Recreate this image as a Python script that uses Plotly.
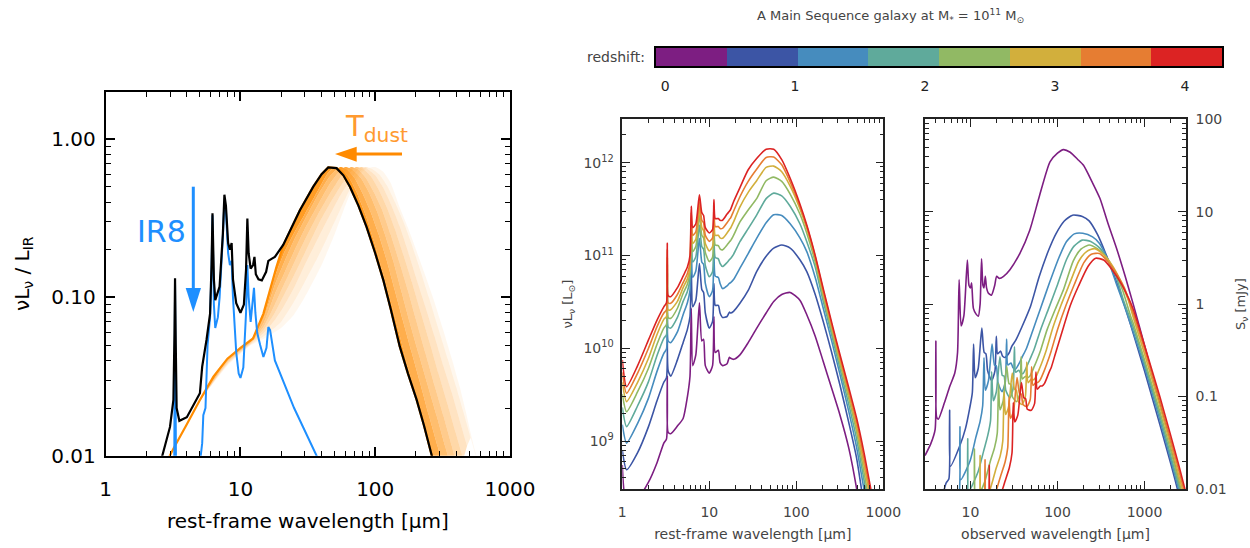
import numpy as np
import plotly.graph_objects as go

W, H = 1250, 548
def px(x): return x / W
def py(y): return 1 - y / H

# ---------------- LEFT PANEL DATA (nuL_nu / L_IR) ----------------
BLK_X = [2.4, 2.63, 3.0, 3.18, 3.24, 3.27, 3.31, 3.36, 3.52, 4.0, 5.0, 5.2, 5.6, 5.95, 6.1, 6.2, 6.35, 6.5, 7.0, 7.4,
         7.6, 7.8, 8.1, 8.35, 8.6, 8.8, 9.3, 10.0, 10.6, 11.0, 11.25, 11.5, 11.9, 12.4, 12.7, 13.0, 13.6, 14.4, 15.5,
         16.1, 17.0, 18.0, 20.8, 24, 27.6, 34.7, 40, 44.8, 51.6, 58, 64.9, 75, 86.2, 100, 115, 130, 152, 175, 203,
         230, 262, 300]
BLK_Y = [0.0065, 0.01, 0.0152, 0.0225, 0.06, 0.132, 0.05, 0.02, 0.0166, 0.0175, 0.0248, 0.0365, 0.054, 0.079, 0.16,
         0.34, 0.13, 0.096, 0.117, 0.25, 0.445, 0.38, 0.22, 0.2, 0.22, 0.13, 0.092, 0.08, 0.09, 0.15, 0.315, 0.19,
         0.152, 0.16, 0.18, 0.14, 0.13, 0.128, 0.145, 0.17, 0.175, 0.18, 0.215, 0.28, 0.355, 0.5, 0.6, 0.662, 0.655,
         0.59, 0.5, 0.38, 0.279, 0.19, 0.128, 0.085, 0.049, 0.033, 0.0225, 0.0155, 0.01, 0.0065]

BLU_X = [3.1, 3.22, 3.27, 3.33, 3.6, 4.8, 5.0, 5.2, 5.3, 5.5, 5.7, 5.95, 6.1, 6.2, 6.35, 6.5, 6.8, 7.0, 7.4, 7.6,
         7.8, 8.1, 8.35, 8.6, 8.8, 9.3, 9.7, 10.0, 10.5, 11.0, 11.25, 11.5, 11.9, 12.3, 12.6, 12.9, 13.3, 14.0, 14.8,
         15.6, 16.1, 16.6, 17.2, 18.0, 25, 36.7, 45]
BLU_Y = [0.003, 0.006, 0.12, 0.006, 0.002, 0.004, 0.009, 0.012, 0.018, 0.02, 0.05, 0.075, 0.15, 0.33, 0.09, 0.064,
         0.075, 0.1, 0.24, 0.40, 0.35, 0.19, 0.16, 0.17, 0.1, 0.045, 0.033, 0.031, 0.036, 0.08, 0.16, 0.1, 0.07, 0.09,
         0.115, 0.08, 0.06, 0.05, 0.042, 0.048, 0.065, 0.062, 0.05, 0.04, 0.02, 0.01, 0.006]

# dust-temperature family, hottest (T0) to coldest (T8)
T0_X = [2.9, 3.2, 4.0, 5.0, 6.3, 8.0, 10.0, 12.4, 14.8, 16.5, 18.5, 20.8, 24, 27.6, 34.7, 40, 44.8, 51.6, 58, 64.9,
        75, 86.2, 100, 115, 130, 152, 175, 203, 230, 262, 300]
T0_Y = [0.0095, 0.0112, 0.0158, 0.0225, 0.0316, 0.041, 0.048, 0.055, 0.079, 0.111, 0.156, 0.214, 0.28, 0.355, 0.5,
        0.6, 0.662, 0.655, 0.59, 0.5, 0.38, 0.279, 0.19, 0.128, 0.085, 0.049, 0.033, 0.0225, 0.0155, 0.01, 0.0065]
T1_X = [3.2, 5, 8, 12, 15, 18, 21, 25, 30, 38, 44, 50, 57, 64, 73, 85, 98, 112, 130, 150, 172, 200, 232, 270, 310]
T1_Y = [0.0112, 0.0222, 0.0405, 0.054, 0.077, 0.135, 0.19, 0.255, 0.335, 0.48, 0.6, 0.665, 0.64, 0.57, 0.46, 0.33,
        0.225, 0.15, 0.095, 0.06, 0.038, 0.024, 0.015, 0.0095, 0.0063]
T2_X = [3.2, 5, 8, 12, 15, 18, 21, 25, 30, 38, 46, 55, 62, 70, 80, 92, 106, 122, 140, 160, 185, 215, 250, 290, 330]
T2_Y = [0.0112, 0.022, 0.04, 0.053, 0.075, 0.12, 0.165, 0.23, 0.31, 0.45, 0.58, 0.665, 0.64, 0.57, 0.46, 0.35, 0.25,
        0.17, 0.11, 0.072, 0.046, 0.029, 0.018, 0.0115, 0.0075]
T3_X = [3.2, 5, 8, 12, 15, 18, 21, 25, 30, 38, 46, 53, 60, 68, 78, 90, 103, 118, 136, 156, 180, 210, 245, 285, 330,
        380]
T3_Y = [0.0112, 0.022, 0.0395, 0.0525, 0.07, 0.105, 0.14, 0.195, 0.27, 0.39, 0.52, 0.61, 0.665, 0.64, 0.57, 0.46,
        0.35, 0.25, 0.17, 0.11, 0.07, 0.044, 0.028, 0.018, 0.0115, 0.0075]
T4_X = [3.2, 5, 8, 12, 15, 18, 21, 25, 30, 38, 46, 55, 66, 75, 85, 98, 112, 130, 150, 175, 200, 235, 275, 320, 370, 420]
T4_Y = [0.0112, 0.022, 0.039, 0.052, 0.066, 0.09, 0.12, 0.165, 0.23, 0.34, 0.45, 0.57, 0.665, 0.64, 0.57, 0.46, 0.36,
        0.25, 0.17, 0.11, 0.073, 0.045, 0.028, 0.018, 0.0115, 0.0075]
T5_X = [3.2, 5, 8, 12, 15, 18, 21, 25, 30, 38, 46, 55, 64, 72, 82, 93, 106, 122, 140, 162, 187, 218, 255, 295, 345,
        395, 450]
T5_Y = [0.0112, 0.022, 0.0385, 0.0515, 0.063, 0.08, 0.103, 0.138, 0.19, 0.29, 0.39, 0.5, 0.6, 0.665, 0.645, 0.58,
        0.48, 0.37, 0.27, 0.185, 0.125, 0.08, 0.051, 0.033, 0.021, 0.014, 0.0095]
T6_X = [3.2, 5, 8, 12, 15, 18, 21, 25, 30, 38, 46, 55, 66, 78, 88, 100, 115, 132, 152, 175, 200, 235, 275, 320, 370,
        430, 480]
T6_Y = [0.0112, 0.022, 0.038, 0.051, 0.06, 0.072, 0.088, 0.115, 0.16, 0.24, 0.33, 0.44, 0.56, 0.665, 0.645, 0.59,
        0.49, 0.38, 0.28, 0.195, 0.135, 0.088, 0.057, 0.037, 0.025, 0.016, 0.0115]
T7_X = [3.2, 5, 8, 12, 15, 20, 25, 30, 40, 50, 60, 70, 77, 84, 94, 107, 122, 140, 162, 187, 215, 250, 295, 345, 400,
        450, 510]
T7_Y = [0.0112, 0.022, 0.0375, 0.0505, 0.057, 0.07, 0.094, 0.125, 0.2, 0.3, 0.42, 0.55, 0.62, 0.665, 0.65, 0.6, 0.51,
        0.4, 0.3, 0.215, 0.15, 0.1, 0.063, 0.041, 0.027, 0.019, 0.013]
T8_X = [3.2, 5, 8, 12, 15, 20, 25, 30, 40, 50, 60, 70, 80, 90, 100, 115, 130, 152, 175, 203, 230, 270, 320, 370, 425,
        470, 520, 600]
T8_Y = [0.0112, 0.022, 0.037, 0.05, 0.055, 0.064, 0.078, 0.1, 0.16, 0.25, 0.38, 0.52, 0.62, 0.66, 0.665, 0.62, 0.53,
        0.37, 0.275, 0.195, 0.145, 0.098, 0.062, 0.041, 0.027, 0.019, 0.013, 0.008]

# ---------------- MIDDLE PANEL DATA (rest frame, nuL_nu in Lsun) ----------------
MID_LAM = [1.0, 1.12, 1.5, 2.0, 2.5, 3.0, 3.22, 3.29, 3.36, 3.6, 4.3, 5.0, 5.6, 6.0, 6.2, 6.45, 7.0, 7.7, 8.2, 8.6,
           9.0, 10.0, 10.9, 11.3, 11.7, 12.7, 13.3, 14.2, 16.0, 17.0, 17.6, 19.0, 22.5, 28, 35, 45, 55, 68, 85, 110,
           132, 165, 204, 255, 318, 400, 494, 600, 720]
MID_PURPLE = [5.5e8, 2.2e8, 2.4e8, 3.6e8, 5.8e8, 9.5e8, 1.05e9, 5.0e9, 1.25e9, 1.2e9, 1.45e9, 1.75e9, 3.0e9, 5.0e9,
              2.7e10, 6.5e9, 8.5e9, 3.1e10, 1.2e10, 1.25e10, 6.5e9, 5.4e9, 6.5e9, 2.2e10, 9.0e9, 9.5e9, 7.0e9, 6.5e9,
              6.8e9, 8.0e9, 7.8e9, 7.6e9, 8.5e9, 1.15e10, 1.64e10, 2.4e10, 3.2e10, 3.8e10, 4.0e10, 3.3e10, 2.3e10,
              1.35e10, 7.2e9, 3.7e9, 1.9e9, 8.5e8, 3.05e8, 9e7, 3e7]
MID_DBLUE = [8.0e8, 4.9e8, 7.5e8, 1.43e9, 2.7e9, 4.3e9, 4.8e9, 2.4e10, 5.8e9, 5.0e9, 7.5e9, 1.15e10, 1.6e10, 2.2e10,
             7.0e10, 2.8e10, 3.3e10, 8.2e10, 4.3e10, 4.0e10, 2.4e10, 1.65e10, 1.95e10, 5.0e10, 2.9e10, 2.9e10, 2.4e10,
             2.15e10, 2.2e10, 2.45e10, 2.4e10, 2.5e10, 3.05e10, 4.2e10, 6.7e10, 9.8e10, 1.2e11, 1.3e11, 1.2e11,
             9.0e10, 6.7e10, 3.8e10, 1.94e10, 9.0e9, 4.0e9, 1.6e9, 6.5e8, 2.0e8, 7e7]
MID_LBLUE = [1.5e9, 9.5e8, 1.55e9, 2.9e9, 5.6e9, 8.8e9, 9.8e9, 4.6e10, 1.2e10, 1.15e10, 1.5e10, 2.3e10, 3.1e10, 4.2e10,
             1.35e11, 5.8e10, 6.8e10, 1.53e11, 8.5e10, 8.0e10, 5.0e10, 3.6e10, 4.2e10, 1.2e11, 6.0e10, 5.8e10, 5.0e10,
             4.4e10, 4.7e10, 5.0e10, 5.1e10, 5.5e10, 7.3e10, 1.05e11, 1.53e11, 2.25e11, 2.75e11, 2.7e11, 2.2e11,
             1.55e11, 1.1e11, 5.8e10, 2.7e10, 1.2e10, 5.2e9, 2.1e9, 8.5e8, 3.0e8, 1.1e8]
MID_TEAL = [2.3e9, 1.43e9, 2.4e9, 4.37e9, 8.3e9, 1.28e10, 1.4e10, 6.4e10, 1.7e10, 1.65e10, 2.15e10, 3.2e10, 4.1e10,
            5.6e10, 1.8e11, 8.5e10, 9.7e10, 2.13e11, 1.25e11, 1.17e11, 7.8e10, 5.9e10, 6.7e10, 1.85e11, 9.5e10, 9.2e10,
            8.2e10, 7.6e10, 8.4e10, 9.0e10, 9.3e10, 1.03e11, 1.41e11, 1.95e11, 2.73e11, 4.1e11, 4.7e11, 4.4e11,
            3.4e11, 2.2e11, 1.41e11, 7.5e10, 3.2e10, 1.4e10, 6.0e9, 2.5e9, 1.05e9, 3.8e8, 1.5e8]
MID_GREEN = [3.2e9, 2.07e9, 3.4e9, 6.1e9, 1.1e10, 1.65e10, 1.8e10, 8.0e10, 2.15e10, 2.1e10, 2.7e10, 3.9e10, 4.9e10,
             6.6e10, 2.2e11, 1.1e11, 1.25e11, 2.73e11, 1.65e11, 1.55e11, 1.08e11, 8.6e10, 9.6e10, 2.35e11, 1.3e11,
             1.28e11, 1.18e11, 1.15e11, 1.3e11, 1.4e11, 1.45e11, 1.65e11, 2.3e11, 3.1e11, 4.1e11, 6.4e11, 7.0e11,
             6.3e11, 4.6e11, 2.8e11, 1.74e11, 8.5e10, 3.6e10, 1.55e10, 6.8e9, 2.9e9, 1.25e9, 4.6e8, 1.8e8]
MID_YELLOW = [4.3e9, 2.66e9, 4.3e9, 7.8e9, 1.4e10, 2.05e10, 2.2e10, 9.5e10, 2.6e10, 2.6e10, 3.2e10, 4.5e10, 5.6e10,
              7.5e10, 2.5e11, 1.35e11, 1.5e11, 3.2e11, 2.0e11, 1.85e11, 1.35e11, 1.12e11, 1.25e11, 2.85e11, 1.65e11,
              1.65e11, 1.55e11, 1.53e11, 1.75e11, 1.9e11, 1.98e11, 2.3e11, 3.35e11, 4.8e11, 6.4e11, 8.9e11, 9.2e11,
              8.0e11, 5.6e11, 3.2e11, 1.95e11, 9.3e10, 3.9e10, 1.7e10, 7.4e9, 3.2e9, 1.4e9, 5.5e8, 2.2e8]
MID_ORANGE = [5.5e9, 3.27e9, 5.4e9, 1.0e10, 1.7e10, 2.4e10, 2.6e10, 1.15e11, 3.1e10, 3.05e10, 3.8e10, 5.1e10, 6.4e10,
              8.5e10, 2.9e11, 1.65e11, 1.8e11, 3.8e11, 2.4e11, 2.25e11, 1.65e11, 1.42e11, 1.55e11, 3.4e11, 2.05e11,
              2.05e11, 1.95e11, 1.96e11, 2.25e11, 2.45e11, 2.55e11, 3.0e11, 4.3e11, 6.3e11, 8.5e11, 1.14e12, 1.15e12,
              9.5e11, 6.2e11, 3.4e11, 2.05e11, 9.7e10, 4.2e10, 1.8e10, 8.0e9, 3.5e9, 1.6e9, 6.5e8, 2.6e8]
MID_RED = [7.5e9, 3.85e9, 6.5e9, 1.23e10, 2.0e10, 2.8e10, 3.1e10, 1.35e11, 3.7e10, 3.6e10, 4.5e10, 6.0e10, 7.5e10,
           1.0e11, 3.4e11, 2.0e11, 2.2e11, 4.5e11, 2.9e11, 2.7e11, 2.0e11, 1.75e11, 1.9e11, 4.0e11, 2.5e11, 2.5e11,
           2.4e11, 2.4e11, 2.8e11, 3.0e11, 3.15e11, 3.8e11, 5.4e11, 8.4e11, 1.11e12, 1.40e12, 1.40e12, 1.08e12,
           6.8e11, 3.6e11, 2.13e11, 1.0e11, 4.4e10, 1.9e10, 8.5e9, 3.8e9, 1.76e9, 7.5e8, 3.0e8]

# ---------------- RIGHT PANEL DATA (observed frame, S_nu in mJy) ----------------
OBS_PURPLE_X = [3.0, 3.5, 3.92, 4.0, 4.08, 4.27, 5.0, 5.8, 6.6, 7.1, 7.4, 7.8, 8.4, 9.2, 9.6, 10.0, 10.3, 10.8, 11.6,
                12.3, 12.9, 13.4, 13.9, 14.3, 14.8, 15.3, 16.0, 17.4, 19.0, 20.0, 21.5, 24, 28.4, 37, 48, 62, 82, 100,
                117, 140, 170, 199, 250, 308, 380, 478, 600, 742, 1000, 1500, 2000, 2500, 3000]
OBS_PURPLE_Y = [0.023, 0.031, 0.044, 0.40, 0.06, 0.057, 0.085, 0.13, 0.18, 0.3, 1.84, 0.58, 0.75, 3.0, 1.6, 1.5, 1.7,
                0.9, 0.78, 0.74, 1.0, 3.1, 1.6, 1.5, 2.0, 1.5, 1.32, 1.25, 1.6, 2.0, 1.9, 2.0, 2.36, 3.55, 6.3, 14.8,
                34.6, 43, 47, 44, 37, 31.8, 21, 13.9, 7.5, 4.0, 2.0, 1.0, 0.36, 0.085, 0.03, 0.0115, 0.0055]
OBS_DBLUE_X = [4.4, 5.25, 5.64, 5.76, 5.88, 7.5, 8.75, 9.8, 10.5, 10.85, 11.3, 12.25, 13.5, 14.35, 15.05, 15.75, 17.5,
               19.1, 19.8, 20.5, 22.2, 23.3, 24.9, 28.0, 29.8, 33.3, 39.4, 49, 61.3, 78.8, 96.3, 119, 149, 193, 231,
               289, 357, 446, 557, 700, 1000, 1500, 2000, 2500, 3000]
OBS_DBLUE_Y = [0.0061, 0.0116, 0.0128, 0.071, 0.0176, 0.029, 0.045, 0.075, 0.11, 0.37, 0.16, 0.2, 0.55, 0.3,
               0.29, 0.19, 0.149, 0.19, 0.45, 0.29, 0.31, 0.275, 0.265, 0.3, 0.35, 0.41, 0.58, 0.95, 1.95, 3.8,
               5.8, 7.9, 9.18, 8.9, 7.96, 5.64, 3.56, 2.07, 1.14, 0.58, 0.19, 0.05, 0.019, 0.0085, 0.0044]
OBS_LBLUE_X = [6.9, 7.4, 7.57, 7.73, 9.9, 11.5, 12.9, 13.8, 14.3, 14.8, 16.1, 17.7, 18.9, 19.8, 20.7, 23.0, 25.1, 26.0,
               26.9, 29.2, 30.6, 32.7, 36.8, 39.1, 43.7, 51.8, 64.4, 80.5, 103.5, 126.5, 156, 195.5, 253, 304, 380, 469,
               587, 742, 1000, 1500, 2000, 2500, 3000]
OBS_LBLUE_Y = [0.0083, 0.0091, 0.047, 0.0126, 0.0202, 0.036, 0.054, 0.079, 0.262, 0.117, 0.149, 0.369, 0.218, 0.215,
               0.141, 0.113, 0.143, 0.42, 0.22, 0.231, 0.208, 0.196, 0.235, 0.266, 0.327, 0.513, 0.92, 1.68, 3.16, 4.73,
               5.76, 5.85, 5.34, 4.54, 3.0, 1.72, 0.96, 0.5, 0.21, 0.056, 0.021, 0.0095, 0.0049]
OBS_TEAL_X = [8.5, 9.1, 9.3, 9.5, 12.2, 14.2, 15.8, 17.0, 17.5, 18.3, 19.8, 21.8, 23.2, 24.3, 25.5, 28.3, 30.8, 32.0,
              33.1, 35.9, 37.6, 40.2, 45.3, 48.1, 53.8, 63.7, 79.2, 99, 127, 156, 192, 241, 311, 374, 467, 577, 742,
              1000, 1500, 2000, 2500, 3000]
OBS_TEAL_Y = [0.0063, 0.0069, 0.035, 0.0094, 0.0153, 0.026, 0.038, 0.055, 0.185, 0.09, 0.112, 0.27, 0.169, 0.167,
              0.116, 0.097, 0.12, 0.345, 0.183, 0.193, 0.18, 0.178, 0.221, 0.252, 0.323, 0.523, 0.9, 1.58, 3.04, 4.27,
              4.93, 4.77, 3.99, 3.07, 2.05, 1.08, 0.56, 0.23, 0.062, 0.023, 0.0105, 0.0054]
OBS_GREEN_X = [10.1, 10.9, 11.1, 11.4, 14.5, 16.9, 18.9, 20.3, 21.0, 21.8, 23.7, 26.0, 27.7, 29.1, 30.4, 33.8, 36.8,
               38.2, 39.5, 42.9, 45.0, 48.0, 54.1, 57.5, 64.2, 76, 94.6, 118, 152, 186, 230, 287, 372, 446, 558, 690,
               742, 1000, 1500, 2000, 2500, 3000]
OBS_GREEN_Y = [0.005, 0.0055, 0.027, 0.0074, 0.0118, 0.02, 0.028, 0.04, 0.139, 0.072, 0.089, 0.214, 0.138, 0.136,
               0.099, 0.088, 0.107, 0.271, 0.155, 0.166, 0.16, 0.166, 0.212, 0.243, 0.32, 0.53, 0.885, 1.46, 2.94, 3.93,
               4.37, 3.99, 3.14, 2.35, 1.43, 0.75, 0.62, 0.25, 0.069, 0.026, 0.0118, 0.0061]
OBS_YELLOW_X = [11.8, 12.6, 12.9, 13.2, 16.9, 19.6, 22.0, 23.5, 24.3, 25.3, 27.4, 30.2, 32.1, 33.7, 35.3, 39.2, 42.7,
                44.3, 45.9, 49.8, 52.1, 55.7, 62.7, 66.6, 74.5, 88.2, 110, 137, 176, 216, 267, 333, 431, 517, 647, 742,
                1000, 1500, 2000, 2500, 3000]
OBS_YELLOW_Y = [0.0045, 0.0049, 0.023, 0.0064, 0.0101, 0.0165, 0.023, 0.033, 0.114, 0.064, 0.077, 0.18, 0.12, 0.117,
                0.089, 0.082, 0.1, 0.236, 0.141, 0.154, 0.151, 0.159, 0.205, 0.237, 0.32, 0.553, 0.98, 1.64, 2.93, 3.71,
                3.99, 3.49, 2.58, 1.88, 1.12, 0.72, 0.29, 0.079, 0.03, 0.0135, 0.007]
OBS_ORANGE_X = [13.4, 14.4, 14.7, 15.0, 19.2, 22.3, 25.0, 26.8, 27.7, 28.8, 31.2, 34.3, 36.6, 38.4, 40.1, 44.6, 48.6,
                50.4, 52.2, 56.6, 59.3, 63.3, 71.4, 75.8, 84.7, 100, 125, 156, 201, 245, 303, 379, 491, 589, 742, 1000,
                1500, 2000, 2500, 3000]
OBS_ORANGE_Y = [0.0039, 0.0043, 0.0207, 0.0057, 0.0089, 0.014, 0.0196, 0.028, 0.099, 0.058, 0.069, 0.161, 0.108, 0.106,
                0.082, 0.078, 0.093, 0.21, 0.132, 0.142, 0.142, 0.152, 0.197, 0.229, 0.312, 0.53, 0.965, 1.63, 2.81,
                3.47, 3.54, 2.89, 2.05, 1.49, 0.8, 0.33, 0.09, 0.034, 0.0155, 0.008]
OBS_RED_X = [15.0, 16.1, 16.45, 16.8, 21.5, 25, 28, 30, 31, 32.3, 35, 38.5, 41, 43, 45, 50, 54.5, 56.5, 58.5, 63.5,
             66.5, 71, 80, 85, 95, 112.5, 140, 175, 225, 275, 340, 425, 550, 660, 742, 1000, 1500, 2000, 2500, 3000]
OBS_RED_Y = [0.0034, 0.0037, 0.018, 0.0051, 0.0079, 0.0122, 0.0171, 0.0245, 0.086, 0.053, 0.063, 0.142, 0.097, 0.095,
             0.073, 0.071, 0.084, 0.184, 0.12, 0.13, 0.13, 0.139, 0.183, 0.208, 0.295, 0.496, 0.96, 1.58, 2.57, 3.14,
             3.0, 2.36, 1.62, 1.15, 0.88, 0.36, 0.1, 0.038, 0.0175, 0.009]

# ---------------- COLOURS / LABELS ----------------
Z_COLORS = ['#7D1E82', '#3C55A5', '#468CBE', '#5FAA9B', '#91B964', '#D2AF3C', '#E67D32', '#DC2323']
Z_TICKS = [0, 1, 2, 3, 4]
Z_RANGE = [-0.07, 4.285]

MID_SERIES = [MID_PURPLE, MID_DBLUE, MID_LBLUE, MID_TEAL, MID_GREEN, MID_YELLOW, MID_ORANGE, MID_RED]
OBS_SERIES = [(OBS_PURPLE_X, OBS_PURPLE_Y), (OBS_DBLUE_X, OBS_DBLUE_Y), (OBS_LBLUE_X, OBS_LBLUE_Y),
              (OBS_TEAL_X, OBS_TEAL_Y), (OBS_GREEN_X, OBS_GREEN_Y), (OBS_YELLOW_X, OBS_YELLOW_Y),
              (OBS_ORANGE_X, OBS_ORANGE_Y), (OBS_RED_X, OBS_RED_Y)]
BAND = [(T8_X, T8_Y), (T7_X, T7_Y), (T6_X, T6_Y), (T5_X, T5_Y), (T4_X, T4_Y), (T3_X, T3_Y), (T2_X, T2_Y),
        (T1_X, T1_Y), (T0_X, T0_Y)]
BAND_ALPHA = [None, 0.07, 0.15, 0.24, 0.34, 0.45, 0.57, 0.7, 0.86]

ORANGE = 'rgb(255,140,0)'
BLUE = '#1E8FFF'
GREY = '#444444'
FONT = 'DejaVu Sans'

fig = go.Figure()

# ---- left panel: temperature band ----
for (xs, ys), a in zip(BAND, BAND_ALPHA):
    fig.add_trace(go.Scatter(
        x=xs, y=ys, mode='lines', line=dict(width=0, color='rgba(255,140,0,0)', shape='spline', smoothing=0.5),
        fill='tonexty' if a else None,
        fillcolor=f'rgba(255,140,0,{a})' if a else None,
        xaxis='x', yaxis='y', hoverinfo='skip', showlegend=False))
fig.add_trace(go.Scatter(x=T0_X, y=T0_Y, mode='lines', line=dict(width=2.2, color=ORANGE),
                         xaxis='x', yaxis='y', showlegend=False))
fig.add_trace(go.Scatter(x=BLU_X, y=BLU_Y, mode='lines', line=dict(width=2, color=BLUE),
                         xaxis='x', yaxis='y', showlegend=False))
fig.add_trace(go.Scatter(x=BLK_X, y=BLK_Y, mode='lines', line=dict(width=2.2, color='black'),
                         xaxis='x', yaxis='y', showlegend=False))

# ---- middle panel ----
for vals, col in zip(MID_SERIES, Z_COLORS):
    fig.add_trace(go.Scatter(x=MID_LAM, y=vals, mode='lines',
                             line=dict(width=1.6, color=col, shape='spline', smoothing=0.6),
                             xaxis='x2', yaxis='y2', showlegend=False))

# ---- right panel ----
for (xs, ys), col in zip(OBS_SERIES, Z_COLORS):
    fig.add_trace(go.Scatter(x=xs, y=ys, mode='lines',
                             line=dict(width=1.6, color=col, shape='spline', smoothing=0.6),
                             xaxis='x3', yaxis='y3', showlegend=False))

# ---- colour bar ----
n = len(Z_COLORS)
cscale = []
for k, c in enumerate(Z_COLORS):
    cscale.append([k / n, c])
    cscale.append([(k + 1) / n, c])
fig.add_trace(go.Heatmap(z=[list(range(n))], x=list(np.linspace(Z_RANGE[0], Z_RANGE[1], n + 1)), y=[0, 1],
                         zmin=-0.5, zmax=n - 0.5, colorscale=cscale, showscale=False,
                         xaxis='x4', yaxis='y4', hoverinfo='skip'))


def minor_vals(lo, hi):
    out = []
    for e in range(lo, hi):
        for m in range(2, 10):
            out.append(m * 10.0 ** e)
    return out


left_font = dict(family=FONT, size=20, color='black')
small_font = dict(family=FONT, size=14, color=GREY)

common_left = dict(type='log', showgrid=False, zeroline=False, showline=True, linewidth=2, linecolor='black',
                   mirror='allticks', ticks='inside', ticklen=9, tickwidth=1.5, tickcolor='black',
                   tickfont=left_font, automargin=False)
common_small = dict(type='log', showgrid=False, zeroline=False, showline=True, linewidth=1.5, linecolor='#222',
                    mirror='allticks', ticks='inside', ticklen=8, tickwidth=1.2, tickcolor='#222',
                    tickfont=small_font, automargin=False)

fig.update_layout(
    width=W, height=H, margin=dict(l=0, r=0, t=0, b=0, pad=0, autoexpand=False),
    paper_bgcolor='white', plot_bgcolor='white', showlegend=False,
    xaxis=dict(common_left, domain=[px(105.7), px(510)], anchor='y', range=[0, 3],
               tickvals=[1, 10, 100, 1000], ticktext=['1', '10', '100', '1000'], ticklabelstandoff=14,
               minor=dict(tickvals=minor_vals(0, 3), ticks='inside', ticklen=5, tickwidth=1.2, tickcolor='black'),
               title=dict(text='rest-frame wavelength [μm]', font=left_font, standoff=14)),
    yaxis=dict(common_left, domain=[py(455.7), py(91.7)], anchor='x', range=[-2, np.log10(1.99)],
               tickvals=[0.01, 0.1, 1.0], ticktext=['0.01', '0.10', '1.00'], ticklabelstandoff=4,
               minor=dict(tickvals=minor_vals(-2, 1), ticks='inside', ticklen=5, tickwidth=1.2, tickcolor='black'),
               title=dict(text='νL<sub>ν</sub> / L<sub>IR</sub>', font=left_font, standoff=16)),
    xaxis2=dict(common_small, domain=[px(622.3), px(883.3)], anchor='y2', range=[0, 3],
                tickvals=[1, 10, 100, 1000], ticktext=['1', '10', '100', '1000'], ticklabelstandoff=9,
                minor=dict(tickvals=minor_vals(0, 3), ticks='inside', ticklen=4, tickwidth=1, tickcolor='#222'),
                title=dict(text='rest-frame wavelength [μm]', font=small_font, standoff=11)),
    yaxis2=dict(common_small, domain=[py(489), py(119.3)], anchor='x2', range=[np.log10(3.04e8), np.log10(2.94e12)],
                tickvals=[1e9, 1e10, 1e11, 1e12],
                ticktext=['10<sup>9</sup>', '10<sup>10</sup>', '10<sup>11</sup>', '10<sup>12</sup>'],
                ticklabelstandoff=4,
                minor=dict(tickvals=minor_vals(8, 13), ticks='inside', ticklen=4, tickwidth=1, tickcolor='#222'),
                title=dict(text='νL<sub>ν</sub> [L<sub>⊙</sub>]', font=dict(family=FONT, size=13, color=GREY),
                           standoff=8)),
    xaxis3=dict(common_small, domain=[px(925), px(1186)], anchor='y3', range=[np.log10(3.0), np.log10(3000)],
                tickvals=[10, 100, 1000], ticktext=['10', '100', '1000'], ticklabelstandoff=9,
                minor=dict(tickvals=minor_vals(0, 4), ticks='inside', ticklen=4, tickwidth=1, tickcolor='#222'),
                title=dict(text='observed wavelength [μm]', font=small_font, standoff=11)),
    yaxis3=dict(common_small, domain=[py(489), py(119.3)], anchor='x3', side='right', range=[-2, 2],
                tickvals=[0.01, 0.1, 1, 10, 100], ticktext=['0.01', '0.1', '1', '10', '100'], ticklabelstandoff=5,
                minor=dict(tickvals=minor_vals(-2, 2), ticks='inside', ticklen=4, tickwidth=1, tickcolor='#222'),
                title=dict(text='S<sub>ν</sub> [mJy]', font=dict(family=FONT, size=13, color=GREY), standoff=12)),
    xaxis4=dict(domain=[px(656), px(1222)], anchor='y4', range=Z_RANGE, tickvals=Z_TICKS,
                ticktext=[str(t) for t in Z_TICKS], ticks='', showgrid=False, zeroline=False,
                showline=True, linewidth=2, linecolor='black', mirror=True, automargin=False,
                tickfont=dict(family=FONT, size=14, color='#222'), ticklabelstandoff=6),
    yaxis4=dict(domain=[py(66), py(48)], anchor='x4', range=[0, 1], showticklabels=False, ticks='',
                showgrid=False, zeroline=False, showline=True, linewidth=2, linecolor='black', mirror=True,
                automargin=False),
)

annotations = [
    dict(text='A Main Sequence galaxy at M<sub>*</sub> = 10<sup>11</sup> M<sub>⊙</sub>', x=px(890), y=py(16),
         xref='paper', yref='paper', xanchor='center', yanchor='middle', showarrow=False,
         font=dict(family=FONT, size=13, color=GREY)),
    dict(text='redshift:', x=px(647), y=py(57), xref='paper', yref='paper', xanchor='right', yanchor='middle',
         showarrow=False, font=dict(family=FONT, size=14, color=GREY)),
    dict(text='IR8', x=px(161), y=py(232), xref='paper', yref='paper', xanchor='center', yanchor='middle',
         showarrow=False, font=dict(family=FONT, size=30, color=BLUE)),
    dict(text='T<sub>dust</sub>', x=px(343), y=py(128), xref='paper', yref='paper', xanchor='left',
         yanchor='middle', showarrow=False, font=dict(family=FONT, size=29, color='#FF9A30')),
]
fig.update_layout(annotations=annotations)

shapes = [
    dict(type='line', xref='paper', yref='paper', x0=px(193.3), x1=px(193.3), y0=py(186.7), y1=py(292),
         line=dict(color=BLUE, width=3)),
    dict(type='path', xref='paper', yref='paper', fillcolor=BLUE, line=dict(width=0),
         path=f'M {px(185.7)} {py(288)} L {px(201)} {py(288)} L {px(193.3)} {py(312)} Z'),
    dict(type='line', xref='paper', yref='paper', x0=px(352), x1=px(402), y0=py(154), y1=py(154),
         line=dict(color='#FF8A00', width=3)),
    dict(type='path', xref='paper', yref='paper', fillcolor='#FF8A00', line=dict(width=0),
         path=f'M {px(356.7)} {py(146.7)} L {px(356.7)} {py(161.7)} L {px(335)} {py(154)} Z'),
]
fig.update_layout(shapes=shapes)

fig.write_html('out.html', config={'displayModeBar': False},
               post_script="document.body.style.margin='0px';document.body.style.overflow='hidden';"
                           "document.documentElement.style.overflow='hidden';")
